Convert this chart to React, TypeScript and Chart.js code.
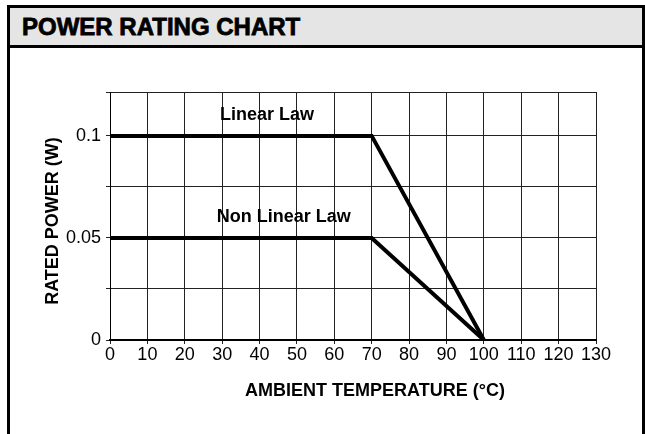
import React, { useEffect, useRef } from "react";
import { Chart, registerables } from "chart.js";

Chart.register(...registerables);

const CHART_TITLE = "POWER RATING CHART";
const X_TITLE = "AMBIENT TEMPERATURE (°C)";
const Y_TITLE = "RATED POWER (W)";

const X_TICKS = [0, 10, 20, 30, 40, 50, 60, 70, 80, 90, 100, 110, 120, 130];
const Y_GRID = [0, 0.025, 0.05, 0.075, 0.1];
const Y_LABELED = [0, 0.05, 0.1];
const Y_MAX = 0.1215;

const LINEAR_TEMPS = [0, 70, 100];
const LINEAR_POWER = [0.1, 0.1, 0];
const NONLINEAR_TEMPS = [0, 70, 100];
const NONLINEAR_POWER = [0.05, 0.05, 0];

const SERIES_LABELS = ["Linear Law", "Non Linear Law"];
const LABEL_TEMPS = [42, 46.5];
const LABEL_POWER = [0.1, 0.05];

const FONT = '"Liberation Sans", Arial, Helvetica, sans-serif';

const overlayPlugin = {
  id: "overlayText",
  afterDraw(chart: any) {
    const { ctx, chartArea, scales } = chart;
    ctx.save();
    ctx.fillStyle = "#000";
    ctx.font = `bold 18px ${FONT}`;
    ctx.textAlign = "center";
    ctx.textBaseline = "alphabetic";
    SERIES_LABELS.forEach((t, i) => {
      const x = scales.x.getPixelForValue(LABEL_TEMPS[i]);
      const y = scales.y.getPixelForValue(LABEL_POWER[i]) - 16;
      ctx.fillText(t, x, y);
    });
    ctx.fillText(X_TITLE, (chartArea.left + chartArea.right) / 2 + 22, chartArea.bottom + 56);
    ctx.translate(48, (chartArea.top + chartArea.bottom) / 2 + 5);
    ctx.rotate(-Math.PI / 2);
    ctx.fillText(Y_TITLE, 0, 0);
    ctx.restore();
  },
};

export default function App() {
  const canvasRef = useRef<HTMLCanvasElement | null>(null);

  useEffect(() => {
    if (!canvasRef.current) return;
    const toPoints = (xs: number[], ys: number[]) => xs.map((x, i) => ({ x, y: ys[i] }));
    const chart = new Chart(canvasRef.current, {
      type: "line",
      data: {
        datasets: [
          {
            label: SERIES_LABELS[0],
            data: toPoints(LINEAR_TEMPS, LINEAR_POWER),
            borderColor: "#000",
            borderWidth: 4,
            pointRadius: 0,
            borderJoinStyle: "miter",
            tension: 0,
          },
          {
            label: SERIES_LABELS[1],
            data: toPoints(NONLINEAR_TEMPS, NONLINEAR_POWER),
            borderColor: "#000",
            borderWidth: 4,
            pointRadius: 0,
            borderJoinStyle: "miter",
            tension: 0,
          },
        ],
      },
      options: {
        responsive: false,
        animation: false,
        layout: { padding: { top: 44, right: 46, left: 0, bottom: 0 } },
        plugins: { legend: { display: false }, tooltip: { enabled: false } },
        scales: {
          x: {
            type: "linear",
            min: 0,
            max: 130,
            afterFit: (s: any) => {
              s.height = 94;
            },
            afterBuildTicks: (s: any) => {
              s.ticks = X_TICKS.map((v) => ({ value: v }));
            },
            grid: { color: "#222", lineWidth: 1, tickLength: 4 },
            border: { color: "#000", width: 2 },
            ticks: {
              color: "#000",
              font: { size: 18, family: FONT },
              padding: 0,
              maxRotation: 0,
              autoSkip: false,
              callback: (v: any) => String(v),
            },
          },
          y: {
            type: "linear",
            min: 0,
            max: Y_MAX,
            afterFit: (s: any) => {
              s.width = 100;
            },
            afterBuildTicks: (s: any) => {
              s.ticks = [...Y_GRID, Y_MAX].map((v) => ({ value: v }));
            },
            grid: { color: "#222", lineWidth: 1, tickLength: 4 },
            border: { color: "#000", width: 1 },
            ticks: {
              color: "#000",
              font: { size: 18, family: FONT },
              padding: 5,
              autoSkip: false,
              callback: (v: any) => (Y_LABELED.includes(v) ? String(v) : ""),
            },
          },
        },
      },
      plugins: [overlayPlugin],
    } as any);
    return () => chart.destroy();
  }, []);

  return (
    <div style={{ position: "fixed", left: 0, top: 0, width: 645, height: 434, background: "#fff", overflow: "hidden" }}>
      <div
        style={{
          position: "absolute",
          left: 7,
          top: 5,
          width: 638,
          height: 440,
          boxSizing: "border-box",
          border: "3px solid #000",
          borderBottom: "none",
        }}
      />
      <div
        style={{
          position: "absolute",
          left: 10,
          top: 8,
          width: 632,
          height: 40,
          boxSizing: "border-box",
          background: "#e5e5e5",
          borderBottom: "3px solid #000",
        }}
      />
      <div
        style={{
          position: "absolute",
          left: 22,
          top: 15,
          fontFamily: FONT,
          fontWeight: 900,
          fontSize: 24,
          lineHeight: "24px",
          color: "#000",
          whiteSpace: "nowrap",
          WebkitTextStroke: "0.8px #000",
        }}
      >
        {CHART_TITLE}
      </div>
      <canvas
        ref={canvasRef}
        width={632}
        height={386}
        style={{ position: "absolute", left: 10, top: 48, width: 632, height: 386, display: "block" }}
      />
    </div>
  );
}
